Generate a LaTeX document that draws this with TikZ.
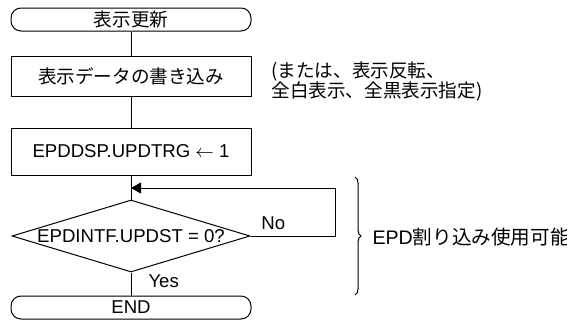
\documentclass[tikz,border=0pt]{standalone}
\usepackage{fontspec}
\setmainfont{Liberation Sans}
\newfontfamily\jp{Noto Sans CJK JP}
\usetikzlibrary{shapes.geometric,arrows.meta,decorations.pathreplacing}

\begin{document}
\begin{tikzpicture}[x = 0.5pt,
  y = -0.5pt,
  term/.style = {draw, rounded corners=5pt, minimum width=120pt,
    minimum height=11.5pt, inner sep=0pt},
  proc/.style = {draw, minimum width=120pt, inner sep=0pt},
  cond/.style = {draw, diamond, aspect=3.3, minimum width=119pt,
    minimum height=36pt, inner sep=0pt},
  lbl/.style = {inner sep=0pt},
  flow/.style = {line width=0.5pt},
  every node/.style = {font=\fontsize{9.3}{10}\selectfont, line width=0.5pt}]

  \useasboundingbox (0,0) rectangle (567,322);

  % steps
  \node[term] (start) at (131,19.5) {\jp 表示更新};
  \node[proc, minimum height=20pt] (write) at (131,76) {\jp 表示データの書き込み};
  \node[lbl, anchor=west, align=left] (note) at (271,82)
  {\jp (または、表示反転、\\ \jp 全白表示、全黒表示指定)};
  \node[proc, minimum height=23.5pt] (trig) at (131,151.5)
  {EPDDSP.UPDTRG $\leftarrow$ 1};
  \node[cond] (wait) at (131,236) {EPDINTF.UPDST = 0?};
  \node[term] (end) at (131,307.5) {END};

  % flow lines
  \draw[flow] (start) -- (write);
  \draw[flow] (write) -- (trig);
  \draw[flow] (trig) -- (wait);
  \draw[flow] (wait) -- (end);
  \node[lbl, anchor=west] (yes) at (148,281) {Yes};

  % polling loop
  \coordinate (back) at (131,188);
  \coordinate (turn) at (335,188);
  \draw[flow, -{Triangle[length=5pt,width=5.5pt]}] (wait.east)
  -| node[lbl, above=3pt, pos=0.135] (no) {No} (turn) -- (back);

  % interrupt range
  \draw[flow, decorate, decoration={brace, amplitude=3pt}]
  (355,177) -- (355,295);
  \node[lbl, anchor=west, font=\fontsize{9.8}{12}\selectfont] (intr)
  at (372,237) {EPD\jp 割り込み使用可能};
\end{tikzpicture}
\end{document}
